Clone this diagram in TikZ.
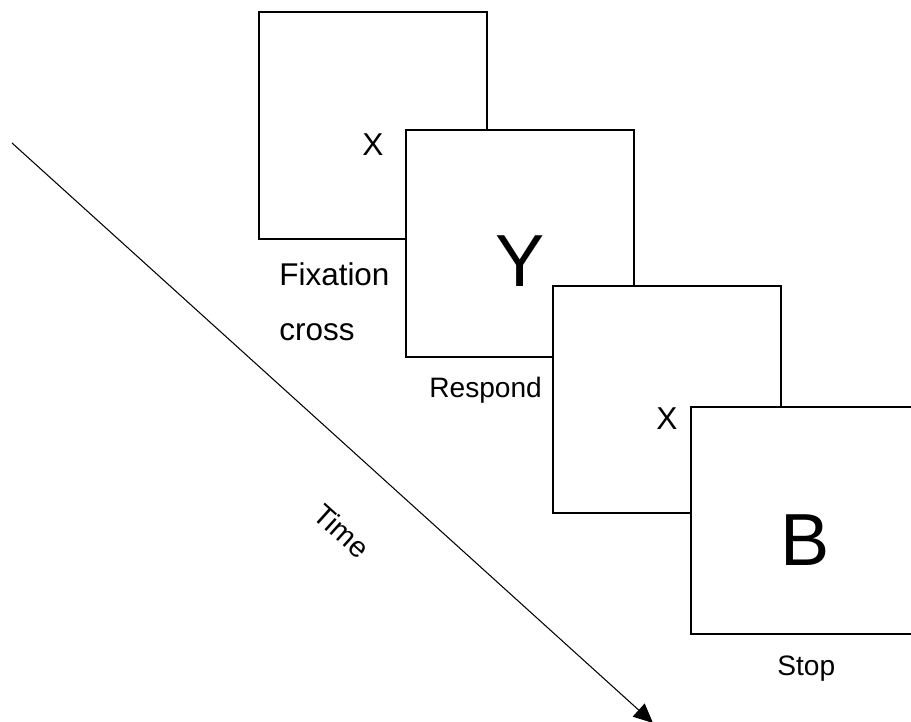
\documentclass[tikz,border=0pt]{standalone}
\usepackage{fontspec}
\setmainfont{Liberation Sans}
\usetikzlibrary{arrows.meta}

\begin{document}
\begin{tikzpicture}[x=0.02cm, y=-0.02cm,
    screen/.style={draw, fill=white, line width=1.1pt, minimum width=4.56cm, minimum height=4.54cm, inner sep=0pt, anchor=north west},
    caption/.style={anchor=base west, inner sep=0pt, font=\fontsize{16}{18}\selectfont},
    small/.style={font=\fontsize{18}{20}\selectfont},
    big/.style={font=\fontsize{42}{46}\selectfont}]

        \useasboundingbox (0,0) rectangle (911,722);

        % time axis
        \coordinate (t0) at (12,143);
        \coordinate (t1) at (653,723);
        \draw[line width=0.6pt, -{Triangle[length=11pt, width=10pt]}] (t0) -- (t1);
        \node[rotate=-42, font=\fontsize{16.5}{18}\selectfont] (time) at (342,531) {Time};

        % the four screens
        \node[screen] (fix) at (258,11) {};
        \node[small] (fixX) at ([yshift=-19*0.02cm]fix.center) {X};

        \node[screen] (resp) at (405,129) {};
        \node[big] (respY) at ([yshift=-18*0.02cm]resp.center) {Y};

        \node[screen] (blank) at (552,285) {};
        \node[small] (blankX) at ([yshift=-19*0.02cm]blank.center) {X};

        \node[screen] (stop) at (690,406) {};
        \node[big] (stopB) at ([yshift=-20*0.02cm]stop.center) {B};

        % captions
        \node[caption, font=\fontsize{17.9}{20}\selectfont] (capfix) at (279,286) {Fixation};
        \node[caption, font=\fontsize{17.9}{20}\selectfont] (capcross) at (279,340) {cross};
        \node[caption] (capresp) at (429,397) {Respond};
        \node[caption] (capstop) at (777,675) {Stop};

\end{tikzpicture}
\end{document}
